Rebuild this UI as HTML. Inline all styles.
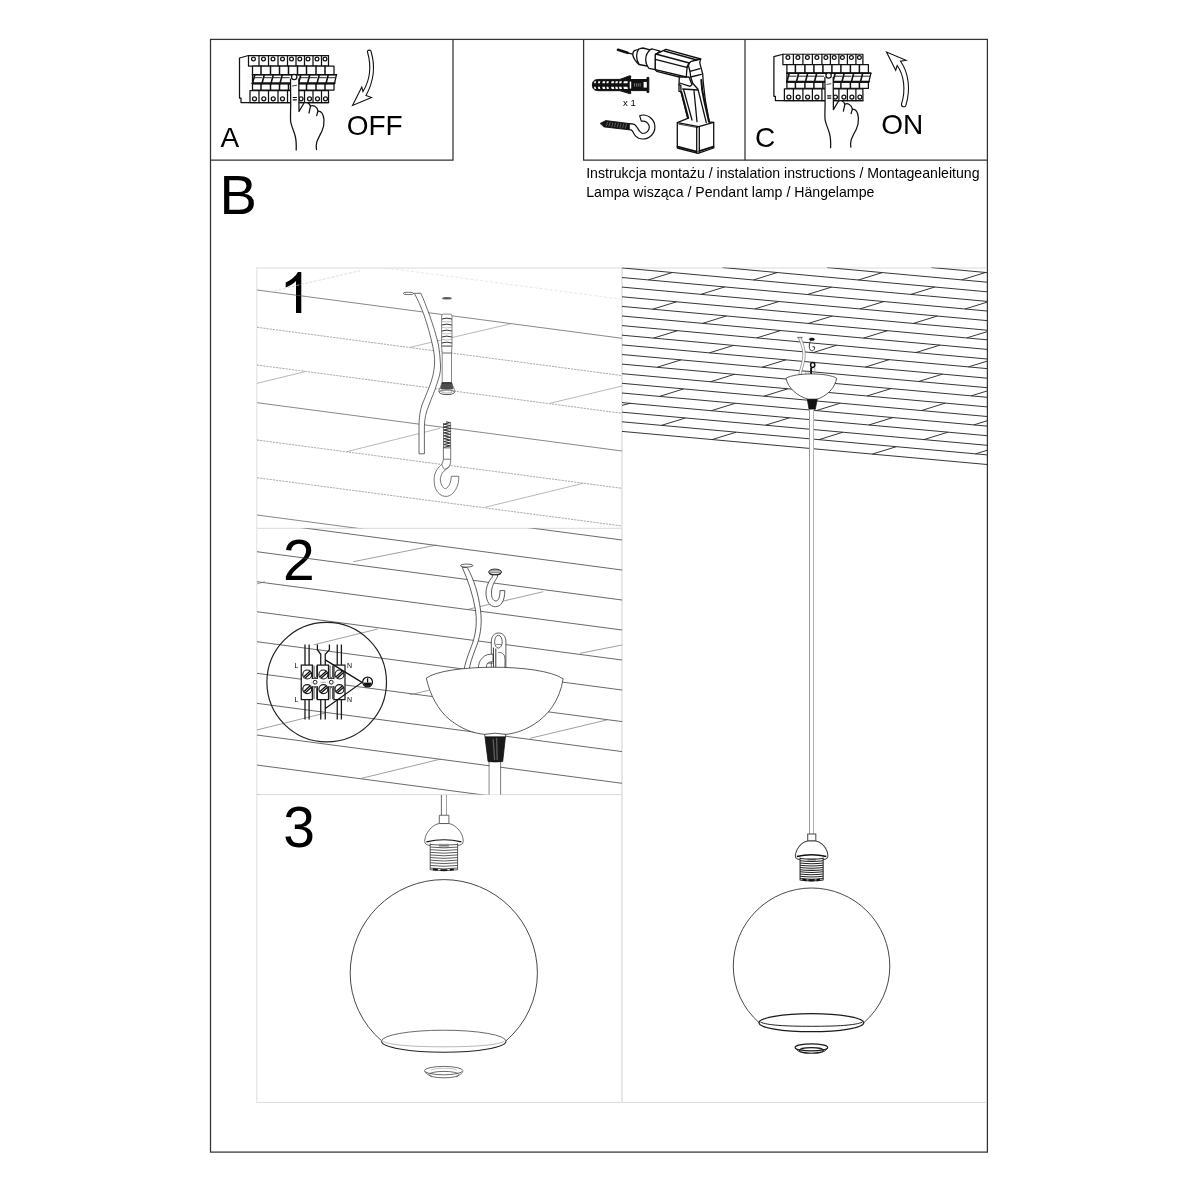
<!DOCTYPE html>
<html><head><meta charset="utf-8"><title>Instrukcja montażu</title>
<style>
html,body{margin:0;padding:0;background:#fff;}
body{width:1200px;height:1200px;overflow:hidden;font-family:"Liberation Sans",sans-serif;}
svg{display:block;position:absolute;left:0;top:0;filter:grayscale(1);}
text{font-family:"Liberation Sans",sans-serif;fill:#000;}
</style></head><body>
<svg width="1200" height="1200" viewBox="0 0 1200 1200">
<rect width="1200" height="1200" fill="#fff"/>
<defs>
<g id="brk" stroke="#111" stroke-width="12.5" fill="none" stroke-linejoin="round" stroke-linecap="round">
<path d="M185,105 L95,130 L95,530 L110,530 L110,575 L185,575" fill="#fff"/>
<rect x="185" y="105" width="800" height="105" fill="#fff"/>
<line x1="290" y1="105" x2="290" y2="210"/>
<line x1="385" y1="105" x2="385" y2="210"/>
<line x1="480" y1="105" x2="480" y2="210"/>
<line x1="575" y1="105" x2="575" y2="210"/>
<line x1="660" y1="105" x2="660" y2="210"/>
<line x1="745" y1="105" x2="745" y2="210"/>
<line x1="830" y1="105" x2="830" y2="210"/>
<line x1="915" y1="105" x2="915" y2="210"/>
<circle cx="235" cy="139" r="19" fill="#fff"/>
<circle cx="335" cy="139" r="19" fill="#fff"/>
<circle cx="430" cy="139" r="19" fill="#fff"/>
<circle cx="525" cy="139" r="19" fill="#fff"/>
<circle cx="615" cy="139" r="19" fill="#fff"/>
<circle cx="698" cy="139" r="19" fill="#fff"/>
<circle cx="780" cy="139" r="19" fill="#fff"/>
<circle cx="870" cy="139" r="19" fill="#fff"/>
<circle cx="950" cy="139" r="19" fill="#fff"/>
<rect x="225" y="210" width="815" height="85" fill="#fff"/>
<line x1="310" y1="210" x2="310" y2="295" stroke-width="15"/>
<line x1="405" y1="210" x2="405" y2="295" stroke-width="15"/>
<line x1="495" y1="210" x2="495" y2="295" stroke-width="15"/>
<line x1="585" y1="210" x2="585" y2="295" stroke-width="15"/>
<line x1="675" y1="210" x2="675" y2="295" stroke-width="15"/>
<line x1="765" y1="210" x2="765" y2="295" stroke-width="15"/>
<line x1="860" y1="210" x2="860" y2="295" stroke-width="15"/>
<line x1="950" y1="210" x2="950" y2="295" stroke-width="15"/>
<path d="M225,295 L1065,295 L1045,385 L225,385 Z" fill="#fff"/>
<line x1="225" y1="297" x2="1065" y2="297" stroke-width="15"/>
<line x1="225" y1="383" x2="1045" y2="383" stroke-width="20"/>
<path d="M225,385 L247,300" stroke-width="16"/>
<path d="M243,327 L317,327" stroke-width="9"/>
<path d="M320,385 L342,300" stroke-width="16"/>
<path d="M338,327 L412,327" stroke-width="9"/>
<path d="M410,385 L432,300" stroke-width="16"/>
<path d="M428,327 L502,327" stroke-width="9"/>
<path d="M500,385 L522,300" stroke-width="16"/>
<path d="M518,327 L592,327" stroke-width="9"/>
<path d="M685,385 L707,300" stroke-width="16"/>
<path d="M703,327 L777,327" stroke-width="9"/>
<path d="M775,385 L797,300" stroke-width="16"/>
<path d="M793,327 L867,327" stroke-width="9"/>
<path d="M870,385 L892,300" stroke-width="16"/>
<path d="M888,327 L962,327" stroke-width="9"/>
<path d="M960,385 L982,300" stroke-width="16"/>
<path d="M978,327 L1052,327" stroke-width="9"/>
<rect x="225" y="385" width="815" height="65" fill="none"/>
<line x1="310" y1="392" x2="310" y2="450" stroke-width="15"/>
<line x1="405" y1="392" x2="405" y2="450" stroke-width="15"/>
<line x1="495" y1="392" x2="495" y2="450" stroke-width="15"/>
<line x1="585" y1="392" x2="585" y2="450" stroke-width="15"/>
<line x1="675" y1="392" x2="675" y2="450" stroke-width="15"/>
<line x1="765" y1="392" x2="765" y2="450" stroke-width="15"/>
<line x1="860" y1="392" x2="860" y2="450" stroke-width="15"/>
<line x1="950" y1="392" x2="950" y2="450" stroke-width="15"/>
<rect x="200" y="455" width="785" height="120" fill="#fff"/>
<line x1="290" y1="455" x2="290" y2="575"/>
<line x1="385" y1="455" x2="385" y2="575"/>
<line x1="480" y1="455" x2="480" y2="575"/>
<line x1="575" y1="455" x2="575" y2="575"/>
<line x1="745" y1="455" x2="745" y2="575"/>
<line x1="830" y1="455" x2="830" y2="575"/>
<line x1="915" y1="455" x2="915" y2="575"/>
<circle cx="245" cy="538" r="20" fill="#fff"/>
<circle cx="338" cy="538" r="20" fill="#fff"/>
<circle cx="432" cy="538" r="20" fill="#fff"/>
<circle cx="525" cy="538" r="20" fill="#fff"/>
<circle cx="710" cy="538" r="20" fill="#fff"/>
<circle cx="795" cy="538" r="20" fill="#fff"/>
<circle cx="875" cy="538" r="20" fill="#fff"/>
<circle cx="955" cy="538" r="20" fill="#fff"/>
<line x1="185" y1="575" x2="985" y2="575"/>
<path d="M605,340 L607,575 C607,650 603,720 606,760 C612,810 640,860 652,910 C662,950 664,1000 662,1050 L865,1045 C860,1020 860,1000 868,970 C880,935 900,900 920,860 C935,830 942,800 940,750 C936,695 912,660 880,660 C872,612 830,598 805,610 C792,575 760,570 740,580 L690,665 L688,340 Z" fill="#fff" stroke="none"/>
<path d="M605,340 L607,575 C607,650 603,720 606,760 C612,810 640,860 652,910 C662,950 664,1000 662,1050" fill="none"/>
<path d="M688,340 L690,665 L740,580 C760,570 792,575 805,610 C830,598 872,612 880,660 C912,660 936,695 940,750 C942,800 935,830 920,860 C900,900 880,935 868,970 C860,1000 860,1020 865,1045" fill="none"/>
<path d="M805,610 L790,680 M880,660 L867,706" fill="none"/>
<circle cx="642" cy="320" r="27" fill="#fff"/>
<path d="M625,410 L665,403" stroke-width="8"/>
<path d="M632,525 L664,525 M632,548 L664,548" stroke-width="12"/>
</g>
<clipPath id="cp1"><rect x="257" y="268" width="365" height="260.3"/></clipPath>
<clipPath id="cp2"><rect x="257" y="528.3" width="365" height="266.3"/></clipPath>
<clipPath id="cpr"><rect x="622" y="267.5" width="365" height="834"/></clipPath>
</defs>
<g fill="none" stroke="#333" stroke-width="1.25">
<rect x="210.5" y="39.4" width="776.9" height="1112.7"/>
<path d="M210.5,160.2 H453 V39.4"/>
<path d="M583.6,39.4 V160.2 H987.4"/>
<path d="M745,39.4 V160.2"/>
</g>
<g fill="none" stroke="#dadada" stroke-width="1">
<path d="M256.2,268 H987 M256.2,528.3 H622 M256.2,794.6 H622 M256.2,1102.4 H987"/>
<path d="M256.8,267.5 V1102.9" stroke="#e6e6e6" stroke-width="1.3"/>
<path d="M622,267.5 V1102.9" stroke="#e4e4e4" stroke-width="1.7"/>
</g>
<text x="220.6" y="147" font-size="28">A</text>
<text x="346.7" y="135.3" font-size="28">OFF</text>
<text x="755" y="147.3" font-size="28">C</text>
<text x="881.2" y="134.2" font-size="28">ON</text>
<text x="219.5" y="214" font-size="56">B</text>
<text x="586.2" y="177.6" font-size="14.13">Instrukcja montażu / instalation instructions / Montageanleitung</text>
<text x="586.2" y="196.6" font-size="14.13">Lampa wisząca / Pendant lamp / Hängelampe</text>
<path d="M301.3,272.1 V312.9 H296 V281 C293.5,283.6 289.5,286 285.7,287.4 V282.6 C291,280.3 295.6,276.4 297.9,272.1 Z" fill="#000"/>
<text x="283" y="579.8" font-size="57">2</text>
<text x="283.2" y="847.3" font-size="57">3</text>
<text x="623" y="106.4" font-size="9.5">x 1</text>
<use href="#brk" transform="translate(230,45) scale(0.1)"/>
<use href="#brk" transform="translate(764.4,43.86) scale(0.1,0.0989)"/>
<g fill="#fff" stroke="#111" stroke-width="1.1" stroke-linejoin="miter">
<path transform="translate(330,40) scale(0.1)" stroke-width="11" d="M375,120 C370,95 410,95 412,120 C450,250 445,400 360,555 L415,575 L225,655 L318,470 L330,515 C400,400 415,260 375,120 Z"/>
<path transform="translate(860,40) scale(0.1)" stroke-width="11" d="M415,640 C410,670 455,680 460,650 C505,500 490,330 405,212 L460,203 L265,120 L357,302 L372,255 C440,350 460,500 415,640 Z"/>
</g>
<g transform="translate(640,40) scale(0.1)" stroke="#111" stroke-width="13" fill="#fff" stroke-linejoin="round" stroke-linecap="round">
<path d="M-220,98 L-125,128" stroke-width="27"/>
<path d="M-125,128 L-73,142" stroke-width="12"/>
<path d="M-72,150 C-72,125 -65,112 -55,107 L-20,95 C0,85 15,80 30,80 L100,98 L70,260 L-10,245 C-25,235 -35,225 -50,200 C-60,185 -68,170 -72,150 Z"/>
<path d="M-15,93 C-40,130 -42,190 -10,243" fill="none"/>
<path d="M125,90 L200,112 L155,145 L153,297 L90,283 C45,230 45,150 100,98 C105,92 115,90 125,90 Z"/>
<path d="M153,143 L260,93 L607,190 L597,227 L613,287 L627,340 L633,427 L653,600 L693,820 L737,823 L737,1080 L580,1133 L373,1080 L373,827 L477,783 L410,517 L390,513 L390,447 L393,370 L167,313 L153,297 Z"/>
<g fill="none">
<path d="M243,110 L567,200 L607,190"/>
<path d="M157,140 L493,230 L513,213 L567,200"/>
<path d="M153,193 L467,273 L493,230"/>
<path d="M153,297 L463,370 L467,313 L473,267 L493,230"/>
<path d="M393,370 L490,370 L520,447 L500,463 L397,430"/>
<path d="M493,230 L483,253 L500,313 L507,370 L527,433 L580,493 L607,600 L663,827"/>
<path d="M500,313 L600,287 M507,370 L613,343"/>
<path d="M390,447 L408,453 L410,517"/>
<path d="M427,490 L577,500"/>
<path d="M437,500 L520,800"/>
<path d="M414,520 L482,780" stroke-width="20"/>
<path d="M540,507 L570,817"/>
<path d="M613,400 L622,500 L645,620 L690,818" stroke-width="20"/>
<path d="M373,827 L587,867 L737,823"/>
<path d="M390,842 L578,876" stroke-width="8"/>
<path d="M567,868 L567,1128 M593,866 L593,1126"/>
<path d="M376,1066 L567,1116 M593,1112 L735,1066" stroke-width="19"/>
</g>
</g>
<g stroke="#111" stroke-width="1" fill="#111" stroke-linejoin="round">
<path d="M592.4,85 C592.4,80.6 595,79.4 599,79.4 L620,79.4 L629.6,75.8 L630.8,76 L630.4,79.5 L647,79.5 L647,77.4 L648.8,77.4 L648.8,92.4 L647,92.4 L647,90.6 L630.4,90.6 L630.8,93.5 L629.6,93.6 L620,90.7 L599,90.7 C595,90.7 592.4,89.4 592.4,85 Z"/>
<g fill="#fff" stroke="none">
<path d="M594,83.3 L594.5,81.2 L596.1,81.2 L595.6,83.3 Z"/>
<path d="M594,86.7 L594.5,88.9 L596.1,88.9 L595.6,86.7 Z"/>
<path d="M597.9,83.3 L598.4,81.2 L600.3,81.2 L599.8,83.3 Z"/>
<path d="M597.9,86.7 L598.4,88.9 L600.3,88.9 L599.8,86.7 Z"/>
<path d="M602.3,83.3 L602.8,81.2 L605.3,81.2 L604.8,83.3 Z"/>
<path d="M602.3,86.7 L602.8,88.9 L605.3,88.9 L604.8,86.7 Z"/>
<path d="M606.4,83.3 L606.9,81.2 L608.9,81.2 L608.4,83.3 Z"/>
<path d="M606.4,86.7 L606.9,88.9 L608.9,88.9 L608.4,86.7 Z"/>
<path d="M611.1,83.3 L611.6,81.2 L614.2,81.2 L613.7,83.3 Z"/>
<path d="M611.1,86.7 L611.6,88.9 L614.2,88.9 L613.7,86.7 Z"/>
<path d="M615.2,83.3 L615.7,81.2 L618.0,81.2 L617.5,83.3 Z"/>
<path d="M615.2,86.7 L615.7,88.9 L618.0,88.9 L617.5,86.7 Z"/>
<path d="M619,83.3 L619.5,81.2 L621.9,81.2 L621.4,83.3 Z"/>
<path d="M619,86.7 L619.5,88.9 L621.9,88.9 L621.4,86.7 Z"/>
<path d="M623.4,83.3 L623.9,81.2 L627.9,81.2 L627.4,83.3 Z"/>
<path d="M623.4,86.7 L623.9,88.9 L627.9,88.9 L627.4,86.7 Z"/>
<rect x="629.7" y="81.6" width="1.5" height="7"/>
<rect x="643.6" y="81.9" width="3.2" height="5.7"/>
</g>
<g fill="#8a8a8a" stroke="none">
<rect x="634" y="83.2" width="0.8" height="3.4"/>
<rect x="635.9" y="83.2" width="0.8" height="3.4"/>
<rect x="637.8" y="83.2" width="0.8" height="3.4"/>
<rect x="639.7" y="83.2" width="0.8" height="3.4"/>
</g></g>
<g stroke="#111" stroke-width="1.2" fill="#fff" stroke-linejoin="round" stroke-linecap="round">
<path d="M629,123.6 C631,123.6 633,123.8 634.4,124.4 C636,125.3 636.8,126.8 637.6,128.1 C638.4,129.6 639.2,131 640.3,131.9 C641.2,132.8 642,133.4 642.9,133.5 A6.4,6.3 0 0 0 649.3,127.3 A6.2,6.1 0 0 0 643.4,121.2 L641.3,121.2 L639.7,115.9 C641,115.2 642,115 642.9,115 A12,12 0 0 1 654.9,127 A12,12 0 0 1 642.9,139 C641.4,139 640,138.8 638.7,138.3 C636.8,137.5 635.4,136.2 634.4,134.5 C633.6,133.2 633,131.8 632.3,130.8 C631.6,130 630.5,129.6 629,129.6 Z"/>
<path d="M600.5,123.3 L605.8,120.6 L629,123.5 L629,129.8 L604.2,126.9 Z" fill="#151515" stroke-width="0.9"/>
<g stroke="#9a9a9a" stroke-width="0.55">
<line x1="607.5" y1="122.1" x2="606.4" y2="125.7"/>
<line x1="610.2" y1="122.5" x2="609.1" y2="126.0"/>
<line x1="612.9" y1="122.8" x2="611.8" y2="126.4"/>
<line x1="615.6" y1="123.1" x2="614.5" y2="126.7"/>
<line x1="618.3" y1="123.5" x2="617.2" y2="127.1"/>
<line x1="621.0" y1="123.8" x2="619.9" y2="127.4"/>
<line x1="623.7" y1="124.1" x2="622.6" y2="127.7"/>
<line x1="626.4" y1="124.5" x2="625.3" y2="128.1"/>
</g>
</g>
<g clip-path="url(#cp1)">
<g stroke="#777" stroke-width="0.7" fill="none">
<line x1="257" y1="290" x2="622" y2="338.3" stroke="#555"/>
<line x1="257" y1="327.3" x2="622" y2="375.6" stroke-dasharray="2.2 1" stroke="#858585"/>
<line x1="257" y1="365" x2="622" y2="413.3" stroke-dasharray="2.2 1" stroke="#858585"/>
<line x1="257" y1="402.7" x2="622" y2="451" stroke="#555"/>
<line x1="257" y1="440" x2="622" y2="488.3" stroke-dasharray="2.2 1" stroke="#858585"/>
<line x1="257" y1="477.7" x2="622" y2="526" stroke-dasharray="2.2 1" stroke="#858585"/>
<line x1="257" y1="515" x2="622" y2="563.3" stroke="#555"/>
<line x1="410" y1="347.3" x2="510" y2="324" stroke="#999"/>
<line x1="257" y1="383.3" x2="305" y2="371.7" stroke="#999"/>
<line x1="550" y1="403.3" x2="622" y2="386" stroke="#999"/>
<line x1="346.7" y1="451.7" x2="440" y2="428.3" stroke="#999"/>
<line x1="485" y1="507.3" x2="583.3" y2="483.3" stroke="#999"/>
<line x1="270" y1="291.7" x2="360" y2="270.7" stroke="#ccc" stroke-dasharray="3 1.5"/>
<line x1="386" y1="268" x2="622" y2="299.3" stroke="#ddd" stroke-dasharray="3 2"/>
</g>
<g stroke="#444" stroke-width="0.8" fill="#fff">
<ellipse cx="408.5" cy="293.4" rx="5.3" ry="1.2"/>
<path d="M414.3,293.3 C418,300 421,307 424,315 C427.5,325 430.5,336 432.5,345 C434,352 435,358 434.5,365 C434,372 432.5,378 430,385 C427.5,392 424.5,398 422,405 C420,411 419,418 419,426 L419,453.8 L424.4,453.8 L424.4,426 C424.5,419 426,412 429,405 C431.5,398 434.5,392 436.5,385 C439,378 441,372 440.5,365 C440.3,358 439.5,352 438.5,345 C436.5,336 433,325 429.5,315 C426.5,307 424,300 420.8,293.3 Z"/>
</g>
<g stroke="#666" stroke-width="0.8" fill="#fff">
<ellipse cx="446.9" cy="298.3" rx="4.6" ry="0.8" fill="#555" stroke="#555"/>
<path d="M441.6,316 Q441.6,314.2 443.4,314.1 L450.2,314.1 Q452,314.2 452,316 L452,346 L451.5,353 L451.5,382.5 L455.2,391.5 Q447,397.5 438.6,391.5 L442.2,382.5 L442.2,353 L441.6,346 Z"/>
<path d="M441.7,319 Q446.8,317.3 451.9,319" fill="none" stroke="#333" stroke-width="1"/>
<path d="M441.5,321.4 Q446.8,322.4 452.1,321.4" fill="none" stroke="#999" stroke-width="0.6"/>
<path d="M441.7,325 Q446.8,323.3 451.9,325" fill="none" stroke="#333" stroke-width="1"/>
<path d="M441.5,327.4 Q446.8,328.4 452.1,327.4" fill="none" stroke="#999" stroke-width="0.6"/>
<path d="M441.7,331 Q446.8,329.3 451.9,331" fill="none" stroke="#333" stroke-width="1"/>
<path d="M441.5,333.4 Q446.8,334.4 452.1,333.4" fill="none" stroke="#999" stroke-width="0.6"/>
<path d="M441.7,337 Q446.8,335.3 451.9,337" fill="none" stroke="#333" stroke-width="1"/>
<path d="M441.5,339.4 Q446.8,340.4 452.1,339.4" fill="none" stroke="#999" stroke-width="0.6"/>
<path d="M441.7,343 Q446.8,341.3 451.9,343" fill="none" stroke="#333" stroke-width="1"/>
<path d="M441.5,345.4 Q446.8,346.4 452.1,345.4" fill="none" stroke="#999" stroke-width="0.6"/>
<path d="M441.6,346.2 H452 M442.4,353 H451.4" fill="none" stroke="#444"/>
<path d="M442.2,382.5 H451.5 L452.8,388.8 H440.8 Z" fill="#3a3a3a" stroke="#333"/>
<path d="M441,385 H452.4 M441,387 H452.6" stroke="#888" stroke-width="0.5" fill="none"/>
<ellipse cx="446.9" cy="392.2" rx="7.6" ry="2.4" stroke="#333"/>
<ellipse cx="446.9" cy="391.8" rx="5.4" ry="1.3" stroke="#777" stroke-width="0.6"/>
</g>
<g stroke="#555" stroke-width="0.8" fill="#fff" stroke-linejoin="round">
<path d="M443.4,447.9 L443.4,459.2 C443,461.5 442.5,463 441.7,464.2 C439,467 437,469 435.8,471.7 C434.3,475 434,478 434.2,480.8 C434.3,485 435,488 436.7,490.8 C438.5,493.5 440.5,495 442.5,495.8 C444,496.4 446,496.5 447.5,496.3 C450.5,495.5 452.5,494 454.2,491.7 C456.3,489 457.6,486 458.3,482.5 C458.7,480.5 458.8,478.5 458.75,476.25 L451.25,476.25 C451.2,479 450.8,481.3 450,483.3 C449,486 447.2,488.2 445.4,488.75 C443.8,488.5 442.5,487 441.7,485 C440.6,483 440.2,480.5 440.4,478.3 C440.8,475.8 441.8,473.5 443.3,471.7 C445.2,469.8 447.5,468.5 449.2,466.7 C450.3,464.5 450.7,462 450.7,459.2 L450.7,447.9 Z"/>
<path d="M443.4,459.2 H450.7 M441.7,464.2 C442.5,466.5 443.5,468.3 444.6,469.3 C446.5,468.6 448,467.8 449.2,466.7" fill="none"/>
<path d="M446,421.9 L450.4,422.6 L443.5,424.2 L450.5,425.6 L443.5,427.1 L450.5,428.5 L443.5,430 L450.5,431.4 L443.5,432.9 L450.5,434.3 L443.5,435.8 L450.5,437.2 L443.5,438.7 L450.5,440.1 L443.5,441.6 L450.5,443 L443.5,444.5 L450.5,445.9 L443.5,447.4 " fill="none" stroke="#333" stroke-width="1"/>
<path d="M443.5,423 V447.9 M450.6,423 V447.9" fill="none" stroke="#444" stroke-width="0.7"/>
</g>
</g>
<g clip-path="url(#cp2)">
<g stroke="#444" stroke-width="0.8" fill="none">
<line x1="256.7" y1="491.7" x2="622" y2="540"/>
<line x1="256.7" y1="521.7" x2="622" y2="570"/>
<line x1="256.7" y1="551.7" x2="622" y2="600"/>
<line x1="256.7" y1="581.7" x2="622" y2="630"/>
<line x1="256.7" y1="611.7" x2="622" y2="660"/>
<line x1="256.7" y1="641.7" x2="622" y2="690"/>
<line x1="256.7" y1="673.3" x2="622" y2="721.6"/>
<line x1="256.7" y1="703.3" x2="622" y2="751.6"/>
<line x1="256.7" y1="735" x2="622" y2="783.3"/>
<line x1="256.7" y1="765" x2="622" y2="813.3"/>
<line x1="256.7" y1="795" x2="622" y2="843.3"/>
<line x1="353.3" y1="561.7" x2="436.7" y2="545" stroke="#777" stroke-width="0.7"/>
<line x1="256.7" y1="584" x2="265" y2="581.7" stroke="#777" stroke-width="0.7"/>
<line x1="468.3" y1="609.3" x2="543.3" y2="591.7" stroke="#777" stroke-width="0.7"/>
<line x1="580" y1="653.3" x2="622" y2="645" stroke="#777" stroke-width="0.7"/>
<line x1="313.7" y1="644.8" x2="377.8" y2="629" stroke="#777" stroke-width="0.7"/>
<line x1="256.7" y1="730" x2="325.3" y2="713" stroke="#777" stroke-width="0.7"/>
<line x1="410" y1="694.8" x2="429.8" y2="690" stroke="#777" stroke-width="0.7"/>
<line x1="530" y1="738.3" x2="606.7" y2="720" stroke="#777" stroke-width="0.7"/>
<line x1="361.7" y1="778.3" x2="441" y2="759" stroke="#777" stroke-width="0.7"/>
</g>
<g stroke="#222" stroke-width="1" fill="none">
<circle cx="326.7" cy="682.1" r="59.8" stroke-width="1.2"/>
<g stroke-width="1.3" stroke="#1a1a1a">
<path d="M305,644.5 V665.1 M309.1,644.5 V665.1 M337.25,644.5 V665.1 M341.4,644.5 V665.1"/>
<path d="M305,699.6 V719.5 M309.1,699.6 V719.5 M337.25,699.6 V719.5 M341.4,699.6 V719.5 M320.75,699.6 V719.5 M325.25,699.6 V719.5"/>
<path d="M317.4,644.5 V649.75 L320.75,654.25 V665.1 M329.4,644.5 V649.75 L325.25,654.25 V665.1"/>
</g>
<rect x="301.25" y="665.1" width="11.1" height="34.5" fill="#fff" stroke-width="1.25" stroke="#1a1a1a"/>
<rect x="317.4" y="665.1" width="11.1" height="34.5" fill="#fff" stroke-width="1.25" stroke="#1a1a1a"/>
<rect x="333.9" y="665.1" width="11.1" height="34.5" fill="#fff" stroke-width="1.25" stroke="#1a1a1a"/>
<rect x="311.4" y="678.9" width="7" height="7.4" fill="#fff" stroke="none"/><rect x="327.5" y="678.9" width="7.4" height="7.4" fill="#fff" stroke="none"/>
<path d="M312.4,678.3 H317.4 M312.4,686.9 H317.4 M328.5,678.3 H333.9 M328.5,686.9 H333.9" stroke="#1a1a1a" stroke-width="1"/>
<path d="M314,665.5 V677 Q315.3,678.4 316.6,677 V665.5 M314,699.2 V688.2 Q315.3,686.8 316.6,688.2 V699.2 M330,665.5 V677 Q331.3,678.4 332.6,677 V665.5 M330,699.2 V688.2 Q331.3,686.8 332.6,688.2 V699.2" stroke="#333" stroke-width="0.9"/>
<circle cx="315.1" cy="682.2" r="1.9" fill="#fff" stroke="#222"/><circle cx="331.25" cy="682.2" r="1.9" fill="#fff" stroke="#222"/>
<path d="M320.5,682.3 H326" stroke="#888" stroke-width="0.7"/>
<circle cx="307.25" cy="674.5" r="4.5" fill="#fff" stroke-width="1.2" stroke="#1a1a1a"/>
<path d="M303.9,676.8 L310.2,671.1 M305,678.2 L311.4,672.6" stroke-width="1.3" stroke="#111"/>
<circle cx="307.25" cy="689.1" r="4.5" fill="#fff" stroke-width="1.2" stroke="#1a1a1a"/>
<path d="M303.9,691.4 L310.2,685.7 M305,692.9 L311.4,687.2" stroke-width="1.3" stroke="#111"/>
<circle cx="323.4" cy="674.5" r="4.5" fill="#fff" stroke-width="1.2" stroke="#1a1a1a"/>
<path d="M320,676.8 L326.4,671.1 M321.1,678.2 L327.5,672.6" stroke-width="1.3" stroke="#111"/>
<circle cx="323.4" cy="689.1" r="4.5" fill="#fff" stroke-width="1.2" stroke="#1a1a1a"/>
<path d="M320,691.4 L326.4,685.7 M321.1,692.9 L327.5,687.2" stroke-width="1.3" stroke="#111"/>
<circle cx="339.5" cy="674.5" r="4.5" fill="#fff" stroke-width="1.2" stroke="#1a1a1a"/>
<path d="M336.1,676.8 L342.5,671.1 M337.2,678.2 L343.6,672.6" stroke-width="1.3" stroke="#111"/>
<circle cx="339.5" cy="689.1" r="4.5" fill="#fff" stroke-width="1.2" stroke="#1a1a1a"/>
<path d="M336.1,691.4 L342.5,685.7 M337.2,692.9 L343.6,687.2" stroke-width="1.3" stroke="#111"/>
<path d="M325.25,659.9 L362,682.4 L325.25,708.6" stroke-width="1.25" stroke="#111" stroke-linejoin="miter"/>
<circle cx="367.6" cy="682" r="4.9" fill="#fff" stroke-width="1.25" stroke="#111"/>
<path d="M367.6,678.2 V682.6" stroke-width="1.3" stroke="#111"/>
<path d="M363.9,683 H371.3 C370.8,685.4 369.4,686 367.6,686 C365.8,686 364.4,685.4 363.9,683 Z" fill="#111" stroke="#111" stroke-width="0.8"/>
</g>
<g font-size="7" fill="#222"><text x="294.6" y="667.8">L</text><text x="294.6" y="702.3">L</text><text x="347" y="667.8">N</text><text x="347" y="702.3">N</text></g>
<g stroke="#333" stroke-width="0.8" fill="#fff">
<ellipse cx="466.7" cy="565.6" rx="6.2" ry="1.5"/>
<path d="M462.3,567.5 C468,580 473,595 475.5,610 C478,628 474,640 470,650 C467,658 465,664 464,670 L469,670 C470,664 472,658 475,650 C480,638 482.5,626 480.5,610 C478,592 474,580 467.3,567.5 Z"/>
<ellipse cx="495.1" cy="572.1" rx="6.4" ry="3" fill="#e2e2e2" stroke="#222" stroke-width="1"/>
<path d="M489.8,570.8 H500.4 M489.2,572.4 H501" fill="none" stroke="#555" stroke-width="0.6"/>
<path d="M489.3,573.4 Q495.1,576.4 500.9,573.4" fill="none" stroke="#222" stroke-width="1.1"/>
<path d="M492.3,575 L492.3,577 C488,582 485.8,588 486,594 C486.5,602 490,606.7 495.4,606.7 C501,606.7 504.8,601 504.8,590.6 L500,590.6 C500,597 498.5,601 495.8,601 C493,601 491.5,597.5 491.5,593 C491.5,587 494,582 497.5,577 L497.5,575 Z"/>
<path d="M491.3,669 L491.3,642 C491.3,636 494.5,633 498.6,633 C502.8,633 505.9,636 505.9,642 L505.9,669 Z"/>
<ellipse cx="498.4" cy="641.7" rx="3.8" ry="6.4"/>
<path d="M496.2,644.5 H501.4" fill="none" stroke-width="0.6"/>
<path d="M493.4,647.5 L493.6,669 M495.8,648.5 L495.8,669" fill="none" stroke="#222" stroke-width="0.9"/>
<path d="M498.3,652.5 C501.5,652 504.2,654 504.8,657 C505.2,660 505,664 504.8,669" fill="none"/>
<path d="M478.3,669 C478.5,664 479.5,661 481.5,659 C483.5,656.5 485.5,655.2 487.5,654.7 C489.5,654.2 491.5,654.1 493,654.1 L493,661.7 C490.5,661.7 488.8,662.2 487.5,663.3 C486.6,664.5 486.4,666 486.4,669 Z"/>
<path d="M487.5,663.3 H492.8" fill="none" stroke-width="0.6"/>
<path d="M426.3,678.1 C445,664 540,663 563.1,678.8 C560,700 548,716 532.9,725 C523,731 514,733.5 505.8,734.4 L484.6,734.4 C472,733 462,729 450,720 C438,710 430,695 426.3,678.1 Z"/>
<path d="M484.6,734.4 Q495,732 505.8,734.4 L505.4,737 H485 Z"/>
<path d="M485,737 H505.4 L502.7,761.5 Q495.4,763 488.1,761.5 Z" fill="#1a1a1a" stroke="#111"/>
<path d="M493.2,739 L494.6,760 M496.6,738 L497.2,760" fill="none" stroke="#5a5a5a" stroke-width="1.4"/>
<path d="M489.2,762 V796 M500.6,762 V796" fill="none"/>
<rect x="489.6" y="762.5" width="10.6" height="34" stroke="none"/>
</g>
</g>
<g stroke="#333" stroke-width="0.8" fill="none">
<path d="M441.4,795 V815.3" stroke="#444"/><path d="M446.5,795 V815.3" stroke="#8a8a8a"/>
<g transform="translate(443.9,815.25) scale(1.0)" stroke="#333" stroke-width="0.8" fill="#fff" stroke-linejoin="round">
<rect x="-4.6" y="0" width="9.6" height="8.3" stroke="#444"/>
<path stroke="#444" d="M-4.6,8.3 H5 C10,9 15.5,14 18,19.5 C19,22 19.3,24.5 19.3,26.3 C19.3,28.6 17,29.9 13.7,30.3 L-13.7,30.3 C-17,29.9 -19.2,28.6 -19.2,26.3 C-19.2,24.5 -18.6,22 -17.7,19.5 C-15,14 -10,9 -4.6,8.3 Z"/>
<path d="M-17.5,26.6 Q0,22.4 17.5,26.6" fill="none" stroke="#111" stroke-width="1.2"/>
<rect x="-13.7" y="27.2" width="27.4" height="28.3" stroke="none"/>
<path d="M-13.7,28 V54.5 Q0,56.6 13.7,54.5 V28" fill="none"/>
<rect x="-5" y="28.5" width="10" height="4" fill="#bbb" stroke="none"/>
<path d="M-13.7,29.2 Q0,30.9 13.7,29.2" fill="none"/>
<path d="M-13.7,31.8 Q0,33.5 13.7,31.8" fill="none"/>
<path d="M-13.7,34.4 Q0,36.1 13.7,34.4" fill="none"/>
<path d="M-13.7,37.1 Q0,38.8 13.7,37.1" fill="none"/>
<path d="M-13.7,39.7 Q0,41.4 13.7,39.7" fill="none"/>
<path d="M-13.7,42.3 Q0,44 13.7,42.3" fill="none"/>
<path d="M-13.7,44.9 Q0,46.6 13.7,44.9" fill="none"/>
<path d="M-13.7,47.5 Q0,49.2 13.7,47.5" fill="none"/>
<path d="M-13.7,50.2 Q0,51.9 13.7,50.2" fill="none"/>
<path d="M-13.7,52.8 Q0,54.5 13.7,52.8" fill="none"/>
<path d="M-11,54 Q0,55.8 11,54" fill="none" stroke="#111" stroke-width="1.8" stroke-dasharray="5 2.5 7 2.5 4 10"/>
</g>
<path d="M381.6,1040.8 A93.6,90.5 0 0 1 350.2,973.2 A93.6,93.6 0 0 1 537.4,973.2 A93.6,90.5 0 0 1 506,1040.8" stroke="#333" stroke-width="0.9"/>
<path d="M381.6,1041.2 A62.2,11 0 0 1 506.0,1041.2" stroke="#444" stroke-width="0.8"/>
<path d="M381.6,1041.2 A62.2,11 0 0 0 506.0,1041.2" stroke="#222" stroke-width="1.1"/>
<path d="M383.1,1041.2 C389.6,1045.2 413.8,1046.8 443.8,1046.8 C473.8,1046.8 498.0,1045.2 504.5,1041.2" stroke="#999" stroke-width="0.7"/>
<ellipse cx="443.6" cy="1070.6" rx="19.2" ry="4.2" stroke="#444"/>
<ellipse cx="444" cy="1074.6" rx="15" ry="3.2" stroke="#444"/>
<path d="M424.6,1071.4 C426,1074 430,1076 432,1076.6 M463,1071.4 C462,1074 458,1076 456,1076.6" stroke="#555" stroke-width="0.7"/>
<path d="M431,1070.5 A13,2.2 0 0 1 457,1070.5" stroke="#999" stroke-width="0.6"/>
</g>
<g clip-path="url(#cpr)">
<g stroke="#2b2b2b" stroke-width="0.95" fill="none">
<line x1="931.4" y1="267.5" x2="987" y2="272.6"/>
<line x1="827" y1="267.5" x2="987" y2="282.2"/>
<line x1="722.4" y1="267.5" x2="987" y2="291.8"/>
<line x1="622" y1="267.9" x2="987" y2="301.4"/>
<line x1="622" y1="277.5" x2="987" y2="311"/>
<line x1="622" y1="287.1" x2="987" y2="320.6"/>
<line x1="622" y1="296.8" x2="987" y2="330.2"/>
<line x1="622" y1="306.4" x2="987" y2="339.8"/>
<line x1="622" y1="316" x2="987" y2="349.4"/>
<line x1="622" y1="325.6" x2="987" y2="359"/>
<line x1="622" y1="335.2" x2="987" y2="368.6"/>
<line x1="622" y1="344.9" x2="987" y2="378.2"/>
<line x1="622" y1="354.5" x2="987" y2="387.7"/>
<line x1="622" y1="364.1" x2="987" y2="397.3"/>
<line x1="622" y1="373.7" x2="987" y2="406.9"/>
<line x1="622" y1="383.3" x2="987" y2="416.5"/>
<line x1="622" y1="393" x2="987" y2="426.1"/>
<line x1="622" y1="402.6" x2="987" y2="435.7"/>
<line x1="622" y1="412.2" x2="987" y2="445.3"/>
<line x1="622" y1="421.8" x2="987" y2="454.9"/>
<line x1="622" y1="431.4" x2="987" y2="464.5"/>
<line x1="648.3" y1="279.9" x2="672.3" y2="272.5"/>
<line x1="753.3" y1="280" x2="777.3" y2="272.5"/>
<line x1="858.3" y1="280" x2="882.3" y2="272.6"/>
<line x1="961.5" y1="279.9" x2="985.5" y2="272.5"/>
<line x1="700.8" y1="294.4" x2="724.8" y2="286.9"/>
<line x1="807.5" y1="294.5" x2="831.5" y2="287.1"/>
<line x1="910.8" y1="294.4" x2="934.8" y2="287"/>
<line x1="652.6" y1="309.2" x2="676.6" y2="301.8"/>
<line x1="755" y1="308.9" x2="779" y2="301.5"/>
<line x1="860" y1="308.9" x2="884" y2="301.5"/>
<line x1="965" y1="309" x2="987" y2="302.2"/>
<line x1="702.5" y1="323.4" x2="726.5" y2="315.9"/>
<line x1="808.4" y1="323.4" x2="832.4" y2="316"/>
<line x1="913.4" y1="323.4" x2="937.4" y2="316"/>
<line x1="653.5" y1="338.1" x2="677.5" y2="330.7"/>
<line x1="756.8" y1="337.9" x2="780.8" y2="330.5"/>
<line x1="863.5" y1="338.1" x2="887.5" y2="330.7"/>
<line x1="966.8" y1="337.9" x2="987" y2="331.7"/>
<line x1="709.5" y1="352.8" x2="733.5" y2="345.4"/>
<line x1="812.8" y1="352.7" x2="836.8" y2="345.2"/>
<line x1="916" y1="352.5" x2="940" y2="345.1"/>
<line x1="657" y1="367.3" x2="681" y2="359.9"/>
<line x1="762" y1="367.2" x2="786" y2="359.8"/>
<line x1="865.3" y1="367.1" x2="889.3" y2="359.6"/>
<line x1="968.5" y1="366.9" x2="987" y2="361.2"/>
<line x1="710.4" y1="381.8" x2="734.4" y2="374.3"/>
<line x1="918.6" y1="381.5" x2="942.6" y2="374.1"/>
<line x1="659.6" y1="396.4" x2="683.6" y2="388.9"/>
<line x1="763.8" y1="396.2" x2="787.8" y2="388.8"/>
<line x1="867" y1="396" x2="891" y2="388.6"/>
<line x1="971.1" y1="395.9" x2="987" y2="391"/>
<line x1="711.3" y1="410.7" x2="735.3" y2="403.3"/>
<line x1="816.3" y1="410.6" x2="840.3" y2="403.2"/>
<line x1="921.3" y1="410.6" x2="945.3" y2="403.1"/>
<line x1="661.4" y1="425.4" x2="685.4" y2="418"/>
<line x1="765.5" y1="425.2" x2="789.5" y2="417.8"/>
<line x1="868.8" y1="425" x2="892.8" y2="417.6"/>
<line x1="973.8" y1="424.9" x2="987" y2="420.8"/>
<line x1="712.1" y1="439.6" x2="736.1" y2="432.2"/>
<line x1="818.9" y1="439.7" x2="842.9" y2="432.2"/>
<line x1="923.9" y1="439.6" x2="947.9" y2="432.2"/>
<line x1="872.3" y1="454.1" x2="896.3" y2="446.7"/>
<line x1="975.5" y1="453.9" x2="987" y2="450.3"/>
<line x1="622" y1="405.4" x2="630.5" y2="403.2"/>
</g>
<g stroke="#555" stroke-width="0.7" fill="#fff">
<path d="M797.3,337.4 H802.5" stroke="#444" stroke-width="0.9"/>
<path d="M798.4,337.8 C800,342 802,346 802.6,351 C803.3,357 802,362 800.6,367 C799.8,370 799.2,372 798.8,374.5 L801.2,374.5 C801.6,372 802.2,370 803,367 C804.5,362 805.8,357 805,351 C804.3,346 802.8,342 801,337.8 Z" stroke="#777"/>
<ellipse cx="811.9" cy="339.3" rx="2.6" ry="1.2" fill="#111" stroke="#111"/>
<path d="M810.2,341.5 C809,344 808.8,348.5 810.5,350.3 C812.5,351.8 814.7,350 814.7,347 L812.5,346.8" fill="none" stroke="#333" stroke-width="1"/>
<ellipse cx="812.7" cy="365" rx="2.1" ry="2.4" fill="#fff" stroke="#111" stroke-width="1.5"/>
<path d="M811.1,367.5 V375" fill="none" stroke="#111" stroke-width="1.9"/>
<path d="M814.8,367.5 V375" fill="none" stroke="#999" stroke-width="0.7"/>
<path d="M805.5,375 C805.5,372 807,370.6 809,371 M808.2,375 V371.5" fill="none" stroke="#999" stroke-width="0.7"/>
<path d="M786,378.3 C795,372.5 828,372.5 836.7,378.3 C835,388 827,396 816.7,399.3 L808.3,399.3 C797,396 788,388 786,378.3 Z" stroke="#333" stroke-width="0.8"/>
<path d="M807.3,399.3 H817.3 L815.3,409.3 H809 Z" fill="#111" stroke="#111"/>
<rect x="809.8" y="409.6" width="3.6" height="425" stroke="none"/>
<path d="M809.5,409.5 V834" fill="none" stroke="#999" stroke-width="1"/><path d="M813.5,409.5 V834" fill="none" stroke="#b4b4b4" stroke-width="1"/>
</g>
<g transform="translate(811.6,834) scale(0.843)" stroke="#222" stroke-width="1.2" fill="#fff" stroke-linejoin="round">
<rect x="-4.6" y="0" width="9.6" height="8.3" stroke="#444"/>
<path stroke="#444" d="M-4.6,8.3 H5 C10,9 15.5,14 18,19.5 C19,22 19.3,24.5 19.3,26.3 C19.3,28.6 17,29.9 13.7,30.3 L-13.7,30.3 C-17,29.9 -19.2,28.6 -19.2,26.3 C-19.2,24.5 -18.6,22 -17.7,19.5 C-15,14 -10,9 -4.6,8.3 Z"/>
<path d="M-17.5,26.6 Q0,22.4 17.5,26.6" fill="none" stroke="#111" stroke-width="1.8"/>
<rect x="-13.7" y="27.2" width="27.4" height="28.3" stroke="none"/>
<path d="M-13.7,28 V54.5 Q0,56.6 13.7,54.5 V28" fill="none"/>
<rect x="-5" y="28.5" width="10" height="4" fill="#bbb" stroke="none"/>
<path d="M-13.7,29.2 Q0,30.9 13.7,29.2" fill="none"/>
<path d="M-13.7,31.8 Q0,33.5 13.7,31.8" fill="none"/>
<path d="M-13.7,34.4 Q0,36.1 13.7,34.4" fill="none"/>
<path d="M-13.7,37.1 Q0,38.8 13.7,37.1" fill="none"/>
<path d="M-13.7,39.7 Q0,41.4 13.7,39.7" fill="none"/>
<path d="M-13.7,42.3 Q0,44 13.7,42.3" fill="none"/>
<path d="M-13.7,44.9 Q0,46.6 13.7,44.9" fill="none"/>
<path d="M-13.7,47.5 Q0,49.2 13.7,47.5" fill="none"/>
<path d="M-13.7,50.2 Q0,51.9 13.7,50.2" fill="none"/>
<path d="M-13.7,52.8 Q0,54.5 13.7,52.8" fill="none"/>
<path d="M-11,54 Q0,55.8 11,54" fill="none" stroke="#111" stroke-width="2.6" stroke-dasharray="5 2.5 7 2.5 4 10"/>
</g>
<g stroke="#333" stroke-width="0.8" fill="none">
<path d="M759.1,1022.6 A78.25,75.9 0 0 1 733.3,966.25 A78.25,78.25 0 0 1 889.8,966.25 A78.25,75.9 0 0 1 863.9,1022.6" stroke="#333" stroke-width="0.9"/>
<ellipse cx="811.4" cy="1022.7" rx="52.4" ry="9" stroke="#1a1a1a" stroke-width="1.2"/>
<path d="M760.5,1022.1 C767.0,1025.3 786.4,1026.3 811.4,1026.3 C836.4,1026.3 855.8,1025.3 862.3,1022.1" stroke="#222" stroke-width="1"/>
<ellipse cx="811.4" cy="1047.4" rx="16.3" ry="3.5" stroke="#1a1a1a" stroke-width="1.2"/>
<ellipse cx="811.4" cy="1050.4" rx="12" ry="2.8" stroke="#1a1a1a" stroke-width="1.1"/>
<path d="M795.3,1048 C796.5,1050.5 799,1051.6 800.5,1052 M827.5,1048 C826.3,1050.5 824,1051.6 822.4,1052" stroke="#222" stroke-width="0.9"/>
</g>
</g>
</svg></body></html>
